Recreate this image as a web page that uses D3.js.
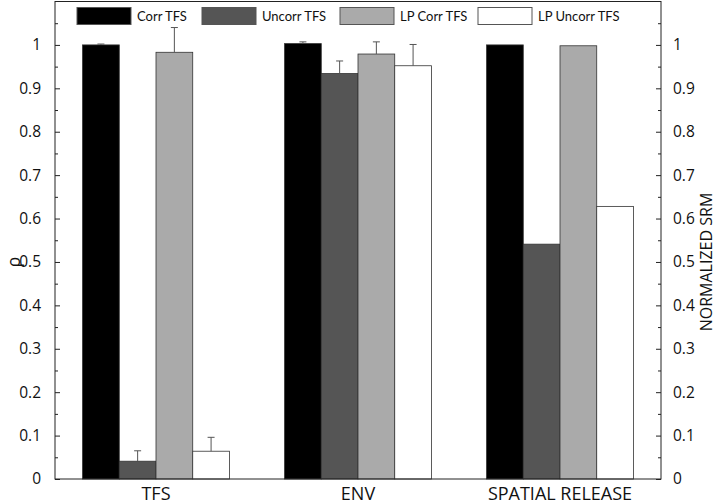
<!DOCTYPE html>
<html><head><meta charset="utf-8">
<script src="https://cdn.jsdelivr.net/npm/d3@7"></script>
<style>body{margin:0;background:#fff}svg{display:block}text{font-family:"Open Sans","Noto Sans",sans-serif;fill:#111}</style>
</head><body><svg id="c" width="720" height="504"></svg>
<script>
const categories = ["TFS", "ENV", "SPATIAL RELEASE"];
const seriesNames = ["Corr TFS", "Uncorr TFS", "LP Corr TFS", "LP Uncorr TFS"];
const corrTFS = [1.0, 1.003, 1.0];
const uncorrTFS = [0.041, 0.934, 0.541];
const lpCorrTFS = [0.983, 0.979, 0.998];
const lpUncorrTFS = [0.064, 0.952, 0.628];
const corrTFSErr = [0.002, 0.004, 0];
const uncorrTFSErr = [0.024, 0.029, 0];
const lpCorrTFSErr = [0.057, 0.028, 0];
const lpUncorrTFSErr = [0.032, 0.049, 0];
const yTicks = [0, 0.1, 0.2, 0.3, 0.4, 0.5, 0.6, 0.7, 0.8, 0.9, 1];
const colors = ["#000000", "#555555", "#aaaaaa", "#ffffff"];

const values = [corrTFS, uncorrTFS, lpCorrTFS, lpUncorrTFS];
const errs = [corrTFSErr, uncorrTFSErr, lpCorrTFSErr, lpUncorrTFSErr];

const svg = d3.select("#c");
const L = 55, R = 661, T = 1.5, B = 479;
const x = d3.scaleBand().domain(categories).range([L, R]).padding(0);
const groupW = x.bandwidth() * 4 / 5.5;
const xs = d3.scaleBand().domain(d3.range(4)).range([0, groupW]).padding(0);
const y = d3.scaleLinear().domain([0, 1.1]).range([B, T]);

// bars
const g = svg.append("g");
categories.forEach((c, ci) => {
  const gx = x(c) + x.bandwidth() / 2 - groupW / 2;
  values.forEach((arr, si) => {
    g.append("rect")
      .attr("x", gx + xs(si)).attr("y", y(arr[ci]))
      .attr("width", xs.bandwidth()).attr("height", y(0) - y(arr[ci]))
      .attr("fill", colors[si]).attr("stroke", "#333").attr("stroke-width", 0.8);
  });
  values.forEach((arr, si) => {
    const e = errs[si][ci];
    if (e <= 0) return;
    const cx = gx + xs(si) + xs.bandwidth() / 2;
    const y0 = y(arr[ci]), y1 = y(arr[ci] + e);
    g.append("line").attr("x1", cx).attr("x2", cx).attr("y1", y0).attr("y2", y1)
      .attr("stroke", "#555").attr("stroke-width", 1);
    g.append("line").attr("x1", cx - 3.5).attr("x2", cx + 3.5).attr("y1", y1).attr("y2", y1)
      .attr("stroke", "#555").attr("stroke-width", 1);
  });
});

// frame
svg.append("rect").attr("x", L).attr("y", T).attr("width", R - L).attr("height", B - T)
  .attr("fill", "none").attr("stroke", "#222").attr("stroke-width", 1);

// axes
const minor = d3.range(0.05, 1.1, 0.1);
const leftAxis = d3.axisLeft(y).tickValues(yTicks).tickSize(-5).tickPadding(14).tickFormat(d3.format("~g"));
const rightAxis = d3.axisRight(y).tickValues(yTicks).tickSize(-5).tickPadding(12).tickFormat(d3.format("~g"));
const la = svg.append("g").attr("transform", `translate(${L},0)`).call(leftAxis);
const ra = svg.append("g").attr("transform", `translate(${R},0)`).call(rightAxis);
[la, ra].forEach(a => {
  a.select(".domain").remove();
  a.selectAll("line").attr("stroke", "#222");
  a.selectAll("text").style("font-size", "15.5px").attr("fill", "#111");
});
svg.append("g").attr("transform", `translate(${L},0)`)
  .call(d3.axisLeft(y).tickValues(minor).tickSize(-3).tickFormat(""))
  .call(a => { a.select(".domain").remove(); a.selectAll("line").attr("stroke", "#222"); });
svg.append("g").attr("transform", `translate(${R},0)`)
  .call(d3.axisRight(y).tickValues(minor).tickSize(-3).tickFormat(""))
  .call(a => { a.select(".domain").remove(); a.selectAll("line").attr("stroke", "#222"); });

// x category labels
svg.selectAll(".cat").data(categories).enter().append("text")
  .attr("x", d => x(d) + x.bandwidth() / 2).attr("y", 500)
  .attr("text-anchor", "middle").style("font-size", "18px").text(d => d);

// y labels
svg.append("text").attr("transform", "translate(20,262) rotate(-90)")
  .attr("text-anchor", "middle").style("font-size", "18px").text("ρ");
svg.append("text").attr("transform", "translate(712,262) rotate(-90)")
  .attr("text-anchor", "middle").style("font-size", "16px").text("NORMALIZED SRM");

// legend
const legendX = [77, 202, 340, 478];
seriesNames.forEach((n, i) => {
  const lx = legendX[i];
  svg.append("rect").attr("x", lx).attr("y", 7.5).attr("width", 54).attr("height", 17)
    .attr("fill", colors[i]).attr("stroke", "#555").attr("stroke-width", 1);
  svg.append("text").attr("x", lx + 60).attr("y", 21)
    .style("font-family", "Lato, 'Open Sans', sans-serif").style("font-size", "13px").text(n);
});
</script></body></html>
